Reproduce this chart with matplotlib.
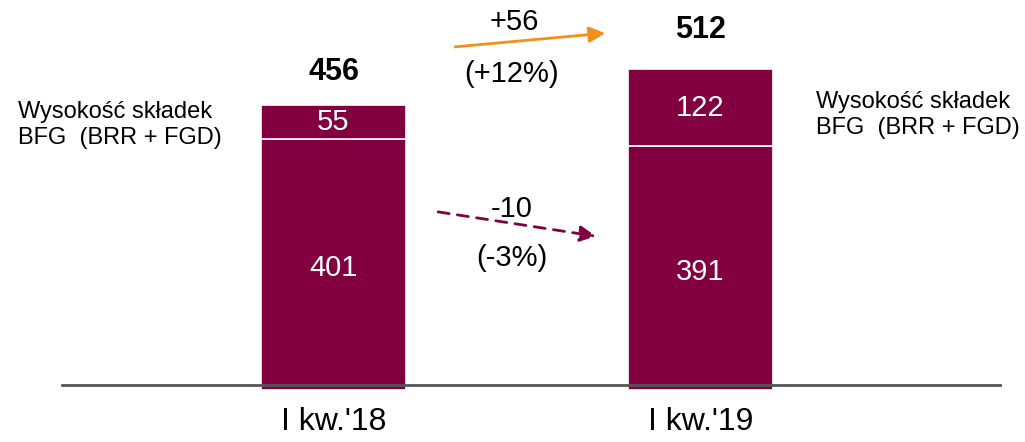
import matplotlib.pyplot as plt

plt.rcParams['font.family'] = ['Liberation Sans', 'DejaVu Sans']

periods = ["I kw.'18", "I kw.'19"]
base = [401, 391]
bfg = [55, 122]
totals = [456, 512]
label_bfg = "Wysokość składek\nBFG  (BRR + FGD)"
delta_total = ["+56", "(+12%)"]
delta_base = ["-10", "(-3%)"]

bar_color = '#82003F'
orange = '#F39019'

fig = plt.figure(figsize=(10.25, 4.42), dpi=100)
ax = fig.add_axes([0, 0, 1, 1])
ax.set_xlim(-0.9087, 1.884)
ax.set_ylim(-83.2, 624)
ax.axis('off')

x = [0, 1]
w = 0.395
ax.bar(x, base, width=w, color=bar_color, edgecolor='white', linewidth=1.2)
ax.bar(x, bfg, bottom=base, width=w, color=bar_color, edgecolor='white', linewidth=1.2)

# baseline
ax.plot([-0.74, 1.816], [8, 8], color='#555555', lw=2, zorder=5)

total_y = [509, 576]
for i in range(2):
    ax.text(x[i], base[i] / 2 - 6, str(base[i]), color='white', fontsize=21,
            ha='center', va='center')
    ax.text(x[i], base[i] + bfg[i] / 2, str(bfg[i]), color='white', fontsize=21,
            ha='center', va='center')
    ax.text(x[i], total_y[i], str(totals[i]), color='black', fontsize=22,
            fontweight='bold', ha='center', va='center')
    ax.text(x[i], -52, periods[i], fontsize=23, ha='center', va='center')

ax.text(-0.86, 424, label_bfg, fontsize=17, ha='left', va='center', linespacing=1.2)
ax.text(1.315, 440, label_bfg, fontsize=17, ha='left', va='center', linespacing=1.2)

# total change arrow
ax.annotate('', xy=(0.74, 571), xytext=(0.331, 549),
            arrowprops=dict(arrowstyle='-|>', color=orange, lw=2,
                            mutation_scale=24, shrinkA=0, shrinkB=0))
ax.text(0.492, 589, delta_total[0], fontsize=21, ha='center', va='center')
ax.text(0.484, 506, delta_total[1], fontsize=21, ha='center', va='center')

# base change arrow
ax.annotate('', xy=(0.715, 246), xytext=(0.285, 285),
            arrowprops=dict(arrowstyle='-|>', color=bar_color, lw=2,
                            linestyle=(0, (4, 3)), mutation_scale=24,
                            shrinkA=0, shrinkB=0))
ax.text(0.486, 290, delta_base[0], fontsize=21, ha='center', va='center')
ax.text(0.486, 212, delta_base[1], fontsize=21, ha='center', va='center')

fig.savefig('out.png', dpi=100)
